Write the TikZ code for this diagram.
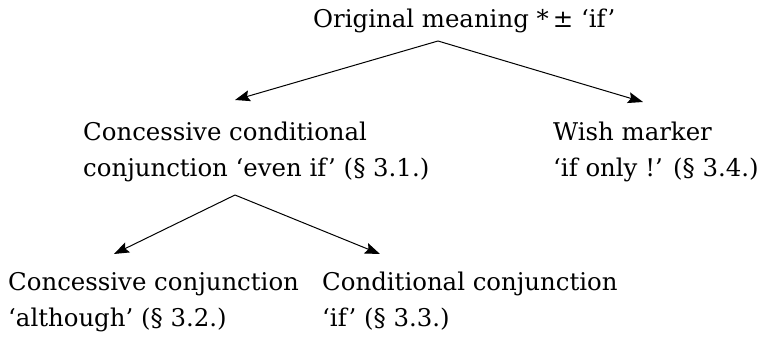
\documentclass[tikz,border=0pt]{standalone}
\usepackage{fontspec}
\setmainfont{DejaVu Serif}
\usetikzlibrary{arrows.meta}
\begin{document}
\begin{tikzpicture}[x=1pt,y=-1pt,
  lbl/.style={anchor=base west,inner sep=0pt,align=left,font=\fontsize{24.4}{36}\selectfont},
  conn/.style={line width=1pt,-{Stealth[length=15pt,width=11pt,inset=2.5pt]}}]
\useasboundingbox (0,0) rectangle (766,337);
\node[lbl] (top) at (313,28) {Original meaning *\,± ‘if’};
\node[lbl] (cc) at (83,176) {Concessive conditional\\conjunction ‘even if’ (§ 3.1.)};
\node[lbl] (wm) at (553,176) {Wish marker\\‘if only !’ (§ 3.4.)};
\node[lbl] (cj) at (8,326) {Concessive conjunction\\‘although’ (§ 3.2.)};
\node[lbl] (cd) at (322,326) {Conditional conjunction\\‘if’ (§ 3.3.)};
\coordinate (a1) at (438,41);
\coordinate (t1) at (235,100);
\coordinate (t2) at (643,102);
\coordinate (a2) at (235,195);
\coordinate (t3) at (114,254);
\coordinate (t4) at (380,254);
\draw[conn] (a1) -- (t1);
\draw[conn] (a1) -- (t2);
\draw[conn] (a2) -- (t3);
\draw[conn] (a2) -- (t4);
\end{tikzpicture}
\end{document}
